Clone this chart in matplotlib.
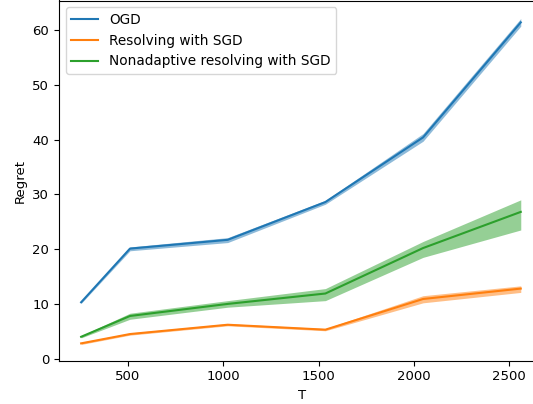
import matplotlib
matplotlib.use("Agg")
import matplotlib.pyplot as plt
import numpy as np

T = [256, 512, 1024, 1536, 2048, 2560]

ogd_mean = [10.3, 20.1, 21.7, 28.6, 40.4, 61.4]
ogd_lo = [10.1, 19.7, 21.2, 28.2, 39.7, 60.7]
ogd_hi = [10.5, 20.4, 22.1, 28.9, 41.1, 62.1]

sgd_mean = [2.8, 4.5, 6.2, 5.3, 10.9, 12.8]
sgd_lo = [2.6, 4.3, 6.0, 5.1, 10.2, 12.1]
sgd_hi = [3.0, 4.7, 6.4, 5.5, 11.5, 13.3]

non_mean = [4.0, 7.8, 10.0, 11.9, 20.2, 26.8]
non_lo = [3.8, 7.2, 9.4, 10.6, 18.5, 23.5]
non_hi = [4.2, 8.3, 10.6, 12.8, 21.4, 29.0]

labels = ["OGD", "Resolving with SGD", "Nonadaptive resolving with SGD"]
colors = ["#1f77b4", "#ff7f0e", "#2ca02c"]

plt.rcParams["font.size"] = 9.5

W, H = 533, 404
fig = plt.figure(figsize=(W / 100, H / 100), dpi=100)
left_px, right_px = 59.0, 545.0
bottom_px, top_px = 360.7, 0.5
ax = fig.add_axes([left_px / W, (H - bottom_px) / H,
                   (right_px - left_px) / W, (bottom_px - top_px) / H])

series = [(ogd_mean, ogd_lo, ogd_hi), (sgd_mean, sgd_lo, sgd_hi), (non_mean, non_lo, non_hi)]
for (m, lo, hi), lab, c in zip(series, labels, colors):
    ax.plot(T, m, color=c, label=lab, lw=1.5)
    ax.fill_between(T, lo, hi, color=c, alpha=0.5, lw=0)

ax.set_xlim(140.0, 2687.0)
ax.set_ylim(-0.365, 65.39)
ax.set_xticks([500, 1000, 1500, 2000, 2500])
ax.set_yticks([0, 10, 20, 30, 40, 50, 60])
ax.spines["right"].set_visible(False)
ax.set_xlabel("T")
ax.set_ylabel("Regret")
ax.legend(loc="upper left", fontsize=9.8)

fig.savefig("out.png", dpi=100)
